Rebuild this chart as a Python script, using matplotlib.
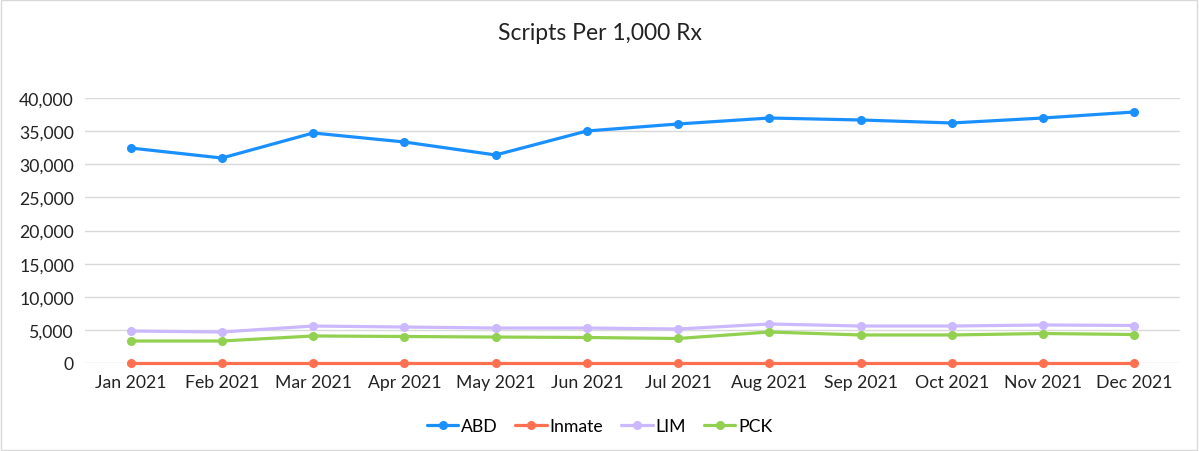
import matplotlib.pyplot as plt
from matplotlib.ticker import FuncFormatter

plt.rcParams['font.family'] = ['Lato', 'DejaVu Sans']

months = ['Jan 2021', 'Feb 2021', 'Mar 2021', 'Apr 2021', 'May 2021', 'Jun 2021',
          'Jul 2021', 'Aug 2021', 'Sep 2021', 'Oct 2021', 'Nov 2021', 'Dec 2021']
abd = [32450, 30940, 34720, 33360, 31400, 35020, 36080, 36980, 36680, 36230, 36980, 37890]
inmate = [60, 60, 60, 60, 60, 60, 60, 60, 60, 60, 60, 60]
lim = [4830, 4680, 5580, 5430, 5280, 5280, 5130, 5890, 5580, 5580, 5740, 5660]
pck = [3320, 3320, 4080, 4000, 3920, 3850, 3700, 4680, 4230, 4230, 4450, 4300]

series = [('ABD', abd, '#1a90ff'), ('Inmate', inmate, '#ff7050'),
          ('LIM', lim, '#cbb8ff'), ('PCK', pck, '#92d050')]

fig = plt.figure(figsize=(11.99, 4.52), dpi=100)
ax = fig.add_axes([85 / 1199, 88 / 452, 1095 / 1199, 265 / 452])

x = range(len(months))
for name, vals, col in series:
    ax.plot(x, vals, color=col, lw=2.3, marker='o', ms=5.5, label=name,
            solid_capstyle='round', clip_on=False)

ax.set_xlim(-0.5, len(months) - 0.5)
ax.set_ylim(0, 40000)
ax.set_yticks(range(0, 40001, 5000))
ax.yaxis.set_major_formatter(FuncFormatter(lambda v, p: f'{int(v):,}'))
ax.set_xticks(list(x))
ax.set_xticklabels(months)
ax.tick_params(length=0, labelsize=12.7, colors='#222222', pad=8)
ax.grid(axis='y', color='#d9d9d9', lw=1)
ax.set_axisbelow(True)
for s in ax.spines.values():
    s.set_visible(False)

fig.text(0.5, 1 - 33 / 452, 'Scripts Per 1,000 Rx', ha='center', va='center',
         fontsize=16.5, color='#222222')
fig.legend(loc='center', bbox_to_anchor=(0.5, 1 - 427 / 452), ncol=4, frameon=False,
           fontsize=12.7, handlelength=1.8, handletextpad=0.15, columnspacing=1.0)

fig.patches.append(plt.Rectangle((0.001, 0.002), 0.997, 0.996, transform=fig.transFigure,
                                 fill=False, edgecolor='#d9d9d9', lw=1))

fig.savefig('out.png', dpi=100)
